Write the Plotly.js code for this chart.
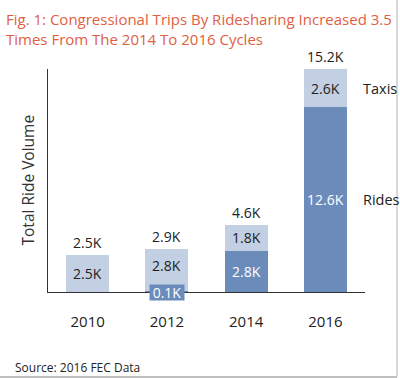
<!DOCTYPE html>
<html>
<head>
<meta charset="utf-8">
<script src="https://cdn.plot.ly/plotly-3.0.1.min.js"></script>
<style>html,body{margin:0;padding:0;background:#fff;}</style>
</head>
<body>
<div id="chart" style="width:400px;height:378px;"></div>
<script>
const years = ["2010", "2012", "2014", "2016"];
const rides = [0, 0.1, 2.8, 12.6];
const taxis = [2.5, 2.8, 1.8, 2.6];
const totals = [2.5, 2.9, 4.6, 15.2];
const rideLabels = [null, "0.1K", "2.8K", "12.6K"];
const taxiLabels = ["2.5K", "2.8K", "1.8K", "2.6K"];
const totalLabels = ["2.5K", "2.9K", "4.6K", "15.2K"];

const darkBlue = "#6b8cbb";
const lightBlue = "#c3cfe2";
const FONT = "Open Sans, Noto Sans, sans-serif";

const traces = [
  {type: "bar", name: "Rides", x: years, y: rides, marker: {color: darkBlue}, hoverinfo: "skip"},
  {type: "bar", name: "Taxis", x: years, y: taxis, marker: {color: lightBlue}, hoverinfo: "skip"}
];

const ann = [];
years.forEach((yr, i) => {
  ann.push({x: i, y: totals[i], text: totalLabels[i], showarrow: false, yanchor: "bottom", yshift: 1,
    font: {family: FONT, size: 14, color: "#222"}});
  ann.push({x: i, y: rides[i] + taxis[i] / 2, text: taxiLabels[i], showarrow: false, yanchor: "middle",
    yshift: i === 1 ? 4 : 0,
    font: {family: FONT, size: 14, color: "#222"}});
  if (rideLabels[i]) {
    const small = rides[i] < 0.5;
    const a = {x: i, y: small ? 0 : rides[i] / 2, text: rideLabels[i], showarrow: false, yanchor: "middle",
      font: {family: FONT, size: 14, color: "#fff"}};
    if (small) { a.bgcolor = darkBlue; a.borderpad = 0; a.width = 34; a.height = 15; }
    ann.push(a);
  }
});
ann.push({xref: "paper", x: 1, xanchor: "left", xshift: -4, y: rides[3] + taxis[3] / 2, text: "Taxis", showarrow: false,
  font: {family: FONT, size: 14.5, color: "#222"}});
ann.push({xref: "paper", x: 1, xanchor: "left", xshift: -4, y: rides[3] / 2, text: "Rides", showarrow: false,
  font: {family: FONT, size: 14.5, color: "#222"}});
ann.push({xref: "paper", yref: "paper", x: -21 / 317, y: 0.5, xanchor: "center", yanchor: "middle", textangle: -90,
  text: "Total Ride Volume", showarrow: false, font: {family: FONT, size: 15.5, color: "#333"}});
ann.push({xref: "paper", yref: "paper", x: -35 / 317, y: -75 / 223, xanchor: "left", yanchor: "middle",
  text: "Source: 2016 FEC Data", showarrow: false, font: {family: FONT, size: 12, color: "#222"}});
ann.push({xref: "paper", yref: "paper", x: -44 / 317, y: 1 + 62 / 223, xanchor: "left", yanchor: "top", align: "left",
  text: "Fig. 1: Congressional Trips By Ridesharing Increased 3.5<br>Times From The 2014 To 2016 Cycles",
  showarrow: false, font: {family: FONT, size: 15, color: "#e0603f"}});

const layout = {
  width: 400, height: 378,
  margin: {l: 48, r: 35, t: 69, b: 86, pad: 0},
  paper_bgcolor: "#fff", plot_bgcolor: "#fff",
  barmode: "stack", bargap: 0.455,
  showlegend: false,
  xaxis: {type: "category", range: [-0.5, 3.5], showline: true, linecolor: "#333", linewidth: 1, ticks: "", showgrid: false,
    tickfont: {family: FONT, size: 15, color: "#222"}, ticklabelstandoff: 16, fixedrange: true},
  yaxis: {range: [0, 15.2], showline: true, linecolor: "#333", linewidth: 1, showgrid: false, zeroline: false,
    showticklabels: false, ticks: "", fixedrange: true},
  annotations: ann,
  shapes: [
    {type: "line", xref: "paper", yref: "paper", x0: -48 / 317, x1: 349 / 317, y0: -85 / 223, y1: -85 / 223,
      line: {color: "#aaa", width: 1.5}},
    {type: "line", xref: "paper", yref: "paper", x0: 349 / 317, x1: 349 / 317, y0: -85 / 223, y1: 1.35,
      line: {color: "#ccc", width: 1.5}}
  ]
};

Plotly.newPlot("chart", traces, layout, {displayModeBar: false, staticPlot: true});
</script>
</body>
</html>
